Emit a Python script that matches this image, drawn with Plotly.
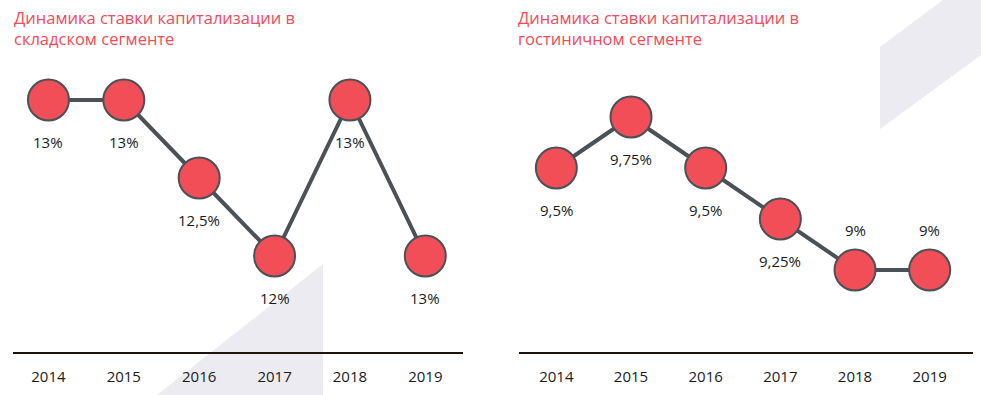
import plotly.graph_objects as go

W, H = 981, 395

years = ["2014", "2015", "2016", "2017", "2018", "2019"]

# Left chart: warehouse segment
warehouse_values = [13, 13, 12.5, 12, 13, 12]
warehouse_labels = ["13%", "13%", "12,5%", "12%", "13%", "13%"]
warehouse_label_pos = ["below", "below", "below", "below", "below", "below"]

# Right chart: hotel segment
hotel_values = [9.5, 9.75, 9.5, 9.25, 9, 9]
hotel_labels = ["9,5%", "9,75%", "9,5%", "9,25%", "9%", "9%"]
hotel_label_pos = ["below", "below", "below", "below", "above", "above"]

title_left = "Динамика ставки капитализации в<br>складском сегменте"
title_right = "Динамика ставки капитализации в<br>гостиничном сегменте"

RED = "#f24e58"
DARK = "#4a5157"
TITLE_RED = "#f04b59"
FONT = "Open Sans, Noto Sans, sans-serif"


def px_x(p):
    return p / W


def px_y(p):
    return 1 - p / H


fig = go.Figure()

fig.add_trace(go.Scatter(
    x=years, y=warehouse_values, mode="lines+markers",
    line=dict(color=DARK, width=4),
    marker=dict(size=41, color=RED, line=dict(color=DARK, width=2)),
    xaxis="x", yaxis="y", hoverinfo="skip", showlegend=False,
))
fig.add_trace(go.Scatter(
    x=years, y=hotel_values, mode="lines+markers",
    line=dict(color=DARK, width=4),
    marker=dict(size=41, color=RED, line=dict(color=DARK, width=2)),
    xaxis="x2", yaxis="y2", hoverinfo="skip", showlegend=False,
))

annotations = []
for xs, ys, labs, poss, xr, yr in [
    (years, warehouse_values, warehouse_labels, warehouse_label_pos, "x", "y"),
    (years, hotel_values, hotel_labels, hotel_label_pos, "x2", "y2"),
]:
    for i, (yv, lab, pos) in enumerate(zip(ys, labs, poss)):
        annotations.append(dict(
            x=i, y=yv, xref=xr, yref=yr, text=lab, showarrow=False,
            yshift=-42 if pos == "below" else 40,
            font=dict(family=FONT, size=15, color="#1a1a1a"),
        ))

annotations.append(dict(
    x=px_x(12), y=px_y(4), xref="paper", yref="paper", xanchor="left", yanchor="top",
    text=title_left, showarrow=False, align="left",
    font=dict(family=FONT, size=16.5, color=TITLE_RED),
))
annotations.append(dict(
    x=px_x(516), y=px_y(4), xref="paper", yref="paper", xanchor="left", yanchor="top",
    text=title_right, showarrow=False, align="left",
    font=dict(family=FONT, size=16.5, color=TITLE_RED),
))

shapes = [
    dict(type="path", xref="paper", yref="paper", layer="below",
         path=f"M {px_x(323)} {px_y(264)} L {px_x(323)} {px_y(395)} L {px_x(157)} {px_y(395)} Z",
         fillcolor="#ebebf1", line=dict(width=0)),
    dict(type="path", xref="paper", yref="paper", layer="below",
         path=(f"M {px_x(880)} {px_y(47)} L {px_x(943)} {px_y(0)} L {px_x(981)} {px_y(0)} "
               f"L {px_x(981)} {px_y(55)} L {px_x(880)} {px_y(129)} Z"),
         fillcolor="#ebebf1", line=dict(width=0)),
]

y_dom = [px_y(352), px_y(40)]

xaxis_common = dict(
    type="category", showgrid=False, zeroline=False,
    showline=True, linecolor="#1e140a", linewidth=1.5,
    ticks="", ticklabelstandoff=10,
    tickfont=dict(family=FONT, size=15, color="#1a1a1a"),
    fixedrange=True,
)
yaxis_common = dict(showgrid=False, zeroline=False, showline=False,
                    showticklabels=False, fixedrange=True)

fig.update_layout(
    width=W, height=H,
    margin=dict(l=0, r=0, t=0, b=0),
    paper_bgcolor="white", plot_bgcolor="rgba(0,0,0,0)",
    xaxis=dict(domain=[px_x(13), px_x(463)], range=[-0.47, 5.5],
               anchor="y", **xaxis_common),
    yaxis=dict(domain=y_dom, range=[12 - 96 / 156, 13 + 60 / 156],
               anchor="x", **yaxis_common),
    xaxis2=dict(domain=[px_x(519), px_x(973)], range=[-0.5, 5.58],
                anchor="y2", **xaxis_common),
    yaxis2=dict(domain=y_dom, range=[9 - 82 / 204, 9.75 + 77 / 204],
                anchor="x2", **yaxis_common),
    annotations=annotations,
    shapes=shapes,
)

fig.write_html(
    "out.html",
    config={"displayModeBar": False},
    post_script="document.body.style.margin='0';document.body.style.overflow='hidden';",
)
